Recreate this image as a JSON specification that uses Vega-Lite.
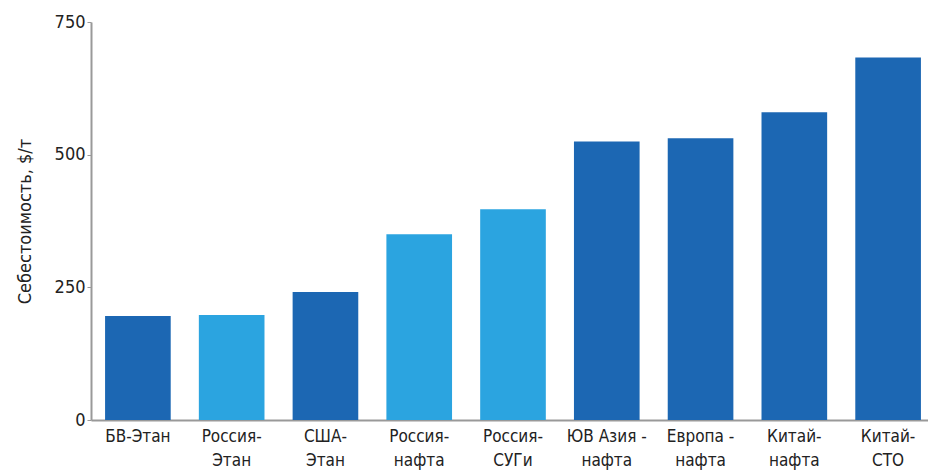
{
  "$schema": "https://vega.github.io/schema/vega-lite/v6.json",
  "autosize": {"type": "none"},
  "padding": {"left": 91, "top": 22, "right": 0, "bottom": 53},
  "width": 844,
  "height": 398,
  "background": "white",
  "config": {
    "view": {"stroke": null},
    "font": "Liberation Sans Narrow, DejaVu Sans Condensed, sans-serif"
  },
  "data": {
    "values": [
      {"category": "БВ-Этан", "cost": 196, "group": "other"},
      {"category": "Россия-|Этан", "cost": 198, "group": "russia"},
      {"category": "США-|Этан", "cost": 241, "group": "other"},
      {"category": "Россия-|нафта", "cost": 350, "group": "russia"},
      {"category": "Россия-|СУГи", "cost": 397, "group": "russia"},
      {"category": "ЮВ Азия -|нафта", "cost": 525, "group": "other"},
      {"category": "Европа -|нафта", "cost": 531, "group": "other"},
      {"category": "Китай-|нафта", "cost": 580, "group": "other"},
      {"category": "Китай-|СТО", "cost": 683, "group": "other"}
    ]
  },
  "mark": {"type": "bar"},
  "encoding": {
    "x": {
      "field": "category",
      "type": "nominal",
      "sort": null,
      "scale": {"paddingInner": 0.3, "paddingOuter": 0.15},
      "axis": {
        "title": null,
        "labelAngle": 0,
        "labelExpr": "split(datum.value, '|')",
        "labelFontSize": 17,
        "labelFontWeight": 500,
        "labelColor": "#222",
        "labelPadding": 8,
        "labelLineHeight": 24,
        "ticks": false,
        "domainColor": "#999",
        "domainWidth": 2
      }
    },
    "y": {
      "field": "cost",
      "type": "quantitative",
      "scale": {"domain": [0, 750]},
      "axis": {
        "title": "Себестоимость, $/т",
        "titleFontSize": 18,
        "titleFontWeight": 500,
        "titleColor": "#222",
        "titlePadding": 20,
        "values": [0, 250, 500, 750],
        "grid": false,
        "labelFontSize": 18,
        "labelFontWeight": 500,
        "labelColor": "#222",
        "tickSize": 4,
        "tickColor": "#999",
        "domainColor": "#999",
        "domainWidth": 2
      }
    },
    "color": {
      "field": "group",
      "type": "nominal",
      "scale": {"domain": ["other", "russia"], "range": ["#1c67b3", "#2ba4e0"]},
      "legend": null
    }
  }
}
